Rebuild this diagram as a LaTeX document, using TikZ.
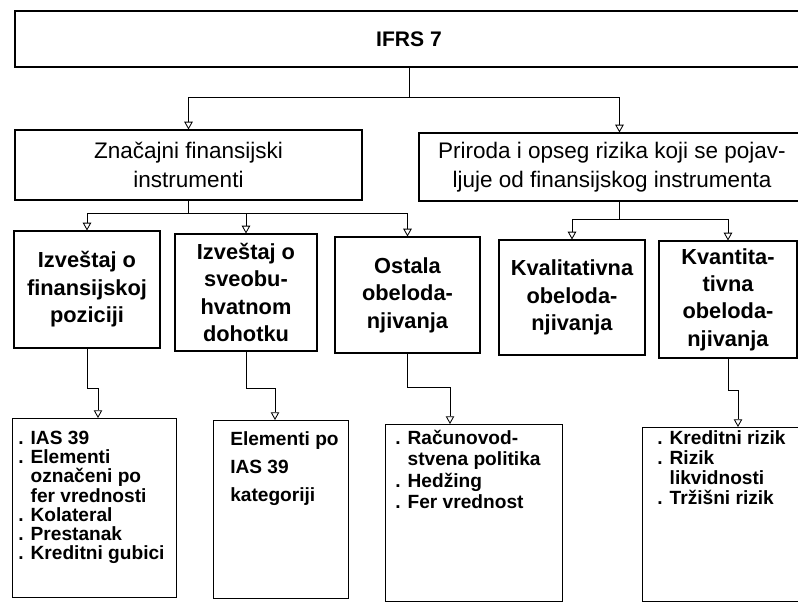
\documentclass[tikz,border=0pt]{standalone}
\usepackage{fontspec}
\setmainfont{Liberation Sans}
\usetikzlibrary{arrows.meta,calc}

\begin{document}
\begin{tikzpicture}[x=0.025cm,y=-0.025cm,>={Triangle[open,width=6pt,length=5.5pt]},
 box/.style={draw,line width=0.75pt,inner sep=0pt},
 sz/.style 2 args={minimum width=#1*0.025cm,minimum height=#2*0.025cm},
 hd/.style={font=\fontsize{15}{18}\selectfont\bfseries},
 md/.style={align=center,font=\fontsize{16}{20.5}\selectfont},
 sm/.style={align=center,font=\fontsize{15.5}{19.5}\selectfont\bfseries},
 lf/.style={align=left,inner sep=0pt,anchor=north west,font=\fontsize{13.6}{13.6}\selectfont\bfseries},
 con/.style={->,line width=0.6pt}]
\clip (0,0) rectangle (798,604);
\node[box,hd,sz={788}{56}] (ifrs) at (409,39) {IFRS 7};
\node[box,md,sz={347}{70}] (zfi) at (188.5,165) {Značajni finansijski\\instrumenti};
\node[box,md,sz={386}{68}] (pri) at (612,167) {Priroda i opseg rizika koji se pojav-\\ljuje od finansijskog instrumenta};
\node[box,sm,sz={146}{117}] (fp) at (87,289.5) {Izveštaj o\\finansijskoj\\poziciji};
\node[box,sm,sz={142}{117}] (sd) at (246,292.5) {Izveštaj o\\sveobu-\\hvatnom\\dohotku};
\node[box,sm,sz={145}{116}] (ob) at (407.5,295) {Ostala\\obeloda-\\njivanja};
\node[box,sm,sz={146}{115}] (kl) at (572,297.5) {Kvalitativna\\obeloda-\\njivanja};
\node[box,sm,sz={138}{117}] (kn) at (728,299.5) {Kvantita-\\tivna\\obeloda-\\njivanja};
\node[box,sz={164}{179},anchor=north west] (fp2) at (12,418) {};
\node[box,sz={135}{178},anchor=north west] (sd2) at (213,420) {};
\node[box,sz={177}{177},anchor=north west] (ob2) at (385,424) {};
\node[box,sz={170}{174},anchor=north west] (kn2) at (642,427) {};
% tekst u donjim okvirima
\node[lf] (fp2t) at (18,431) {. IAS 39\\. Elementi\\\hphantom{. }označeni po\\\hphantom{. }fer vrednosti\\. Kolateral\\. Prestanak\\. Kreditni gubici};
\node[lf,font=\fontsize{13.6}{20}\selectfont\bfseries] (sd2t) at (230,431) {Elementi po\\IAS 39\\kategoriji};
\node[lf,font=\fontsize{13.6}{15.2}\selectfont\bfseries] (ob2t) at (395,430) {. Računovod-\\\hphantom{. }stvena politika\\. Hedžing\\. Fer vrednost};
\node[lf,font=\fontsize{13.6}{14.4}\selectfont\bfseries] (kn2t) at (657,430) {. Kreditni rizik\\. Rizik\\\hphantom{. }likvidnosti\\. Tržišni rizik};
\draw[con] (ifrs.south) -- ++(0,30) -| (zfi.north);
\draw[con] (ifrs.south) -- ++(0,30) -| ($(pri.north west)+(201,0)$);
\draw[con] (zfi.south) -- ++(0,13) -| (fp.north);
\draw[con] (zfi.south) -- ++(0,13) -| (sd.north);
\draw[con] (zfi.south) -- ++(0,13) -| (ob.north);
\draw[con] ($(pri.south west)+(201,0)$) -- ++(0,18) -| (kl.north);
\draw[con] ($(pri.south west)+(201,0)$) -- ++(0,18) -| (kn.north);
\draw[con] (fp.south) -- ++(0,40) -| ($(fp2.north west)+(86,0)$);
\draw[con] (sd.south) -- ++(0,37) -| ($(sd2.north west)+(62,0)$);
\draw[con] (ob.south) -- ++(0,34) -| ($(ob2.north west)+(65,0)$);
\draw[con] (kn.south) -- ++(0,32) -| ($(kn2.north west)+(96,0)$);
\end{tikzpicture}
\end{document}
